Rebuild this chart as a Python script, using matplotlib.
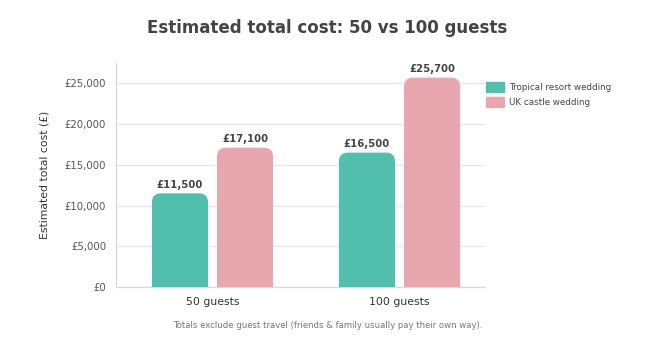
import matplotlib.pyplot as plt
import matplotlib.patches as patches
import numpy as np

# data
groups = ['50 guests', '100 guests']
series = ['Tropical resort wedding', 'UK castle wedding']
tropical = [11500, 16500]
castle = [17100, 25700]
colors = ['#52BFAE', '#E8A6AE']
yticks = [0, 5000, 10000, 15000, 20000, 25000]

plt.rcParams['font.family'] = ['DejaVu Sans']

fig = plt.figure(figsize=(6.54, 3.64), dpi=100)
ax = fig.add_axes([116/654, 1-287/364, (485-116)/654, (287-63)/364])

x = np.arange(len(groups))
w = 0.30
off = 0.174
ax.set_xlim(-0.516, 1.457)
ax.set_ylim(0, 27500)

# size of one pixel in data units, for rounding the bar tops
xpp = (1.457 + 0.516) / (485 - 116)
ypp = 27500 / (287 - 63)
rad = 9 * xpp

for vals, dx, col, name in [(tropical, -off, colors[0], series[0]), (castle, off, colors[1], series[1])]:
    bars = ax.bar(x + dx, vals, w, color=col, label=name)
    for b in bars:
        b.set_visible(False)
        bx, bw, bh = b.get_x(), b.get_width(), b.get_height()
        p = patches.FancyBboxPatch((bx, -rad * ypp / xpp), bw, bh + rad * ypp / xpp,
                                   boxstyle=patches.BoxStyle('Round', pad=0, rounding_size=rad),
                                   mutation_aspect=ypp / xpp, fc=col, ec='none', zorder=3)
        ax.add_patch(p)
        ax.text(bx + bw / 2, bh + 450, f'£{bh:,.0f}', ha='center', va='bottom',
                fontsize=7.3, fontweight='bold', color='#444444', zorder=4)

ax.set_yticks(yticks)
ax.set_yticklabels([f'£{v:,}' for v in yticks])
ax.set_xticks(x)
ax.set_xticklabels(groups)
ax.tick_params(length=0, labelsize=7.3, colors='#555555')
ax.tick_params(axis='x', labelsize=7.8, colors='#333333', pad=7)
ax.tick_params(axis='y', pad=7)
ax.grid(axis='y', color='#E6E6E6', lw=0.9, zorder=0)
ax.set_axisbelow(True)
for s in ['top', 'right']:
    ax.spines[s].set_visible(False)
for s in ['left', 'bottom']:
    ax.spines[s].set_color('#D8D8D8')
    ax.spines[s].set_linewidth(0.9)
ax.set_ylabel('Estimated total cost (£)', fontsize=7.8, color='#333333', labelpad=11)

h = [patches.Patch(color=c) for c in colors]
fig.legend(h, series, loc='upper left', bbox_to_anchor=(486/654, 1-82/364), frameon=False,
           fontsize=6.3, labelcolor='#444444', handlelength=2.0, handleheight=1.4,
           handletextpad=0.6, labelspacing=0.55, borderaxespad=0, borderpad=0)

fig.text(0.5, 1-28/364, 'Estimated total cost: 50 vs 100 guests', ha='center', va='center',
         fontsize=12, fontweight='bold', color='#444444')
fig.text(328/654, 1-326/364, 'Totals exclude guest travel (friends & family usually pay their own way).',
         ha='center', va='center', fontsize=6.1, color='#777777')

fig.savefig('out.png', dpi=100)
